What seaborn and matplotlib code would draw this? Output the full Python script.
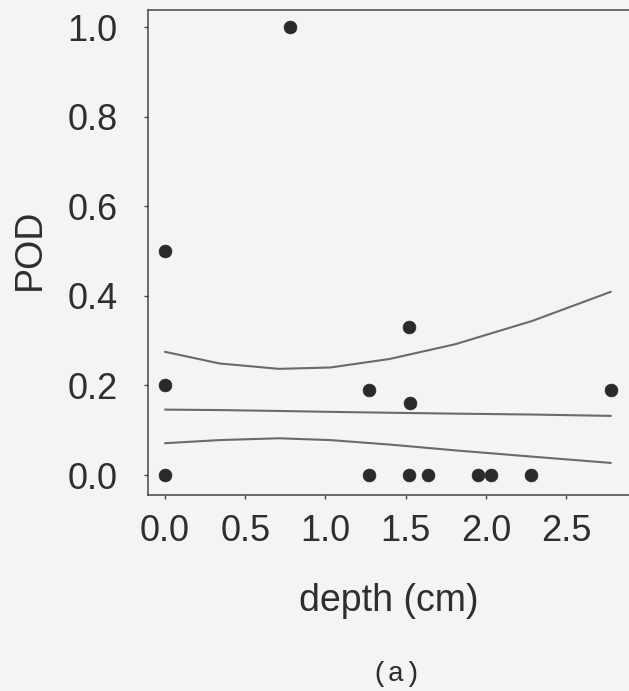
import matplotlib
matplotlib.use("Agg")
import matplotlib.pyplot as plt
import seaborn as sns
import pandas as pd

# observed points
depth = [0.0, 0.0, 0.0, 0.78, 1.27, 1.27, 1.52, 1.53, 1.52, 1.64, 1.95, 2.03, 2.28, 2.78]
pod = [0.5, 0.2, 0.0, 1.0, 0.19, 0.0, 0.33, 0.16, 0.0, 0.0, 0.0, 0.0, 0.0, 0.19]

# fitted curve and confidence bounds
curve_x = [0.0, 0.34, 0.71, 1.03, 1.40, 1.81, 2.29, 2.78]
upper = [0.275, 0.249, 0.237, 0.240, 0.259, 0.292, 0.344, 0.409]
fit = [0.146, 0.145, 0.143, 0.141, 0.139, 0.137, 0.135, 0.132]
lower = [0.071, 0.078, 0.082, 0.078, 0.068, 0.055, 0.041, 0.027]

x_ticks = [0.0, 0.5, 1.0, 1.5, 2.0, 2.5]
y_ticks = [0.0, 0.2, 0.4, 0.6, 0.8, 1.0]

sns.set_style("ticks")
plt.rcParams['font.family'] = ['Liberation Sans', 'DejaVu Sans']

bg = '#f4f4f2'
ink = '#2e2e2e'
fig = plt.figure(figsize=(6.29, 6.91), dpi=100, facecolor=bg)
ax = fig.add_axes([148/629, 196/691, 481/629, 485/691])
ax.set_facecolor(bg)

pts = pd.DataFrame({'depth': depth, 'POD': pod})
lines = pd.DataFrame({
    'depth': curve_x * 3,
    'POD': upper + fit + lower,
    'curve': ['upper'] * len(curve_x) + ['fit'] * len(curve_x) + ['lower'] * len(curve_x),
})

sns.lineplot(data=lines, x='depth', y='POD', units='curve', estimator=None,
             color='#6a6a6a', linewidth=1.5, ax=ax, legend=False)
sns.scatterplot(data=pts, x='depth', y='POD', color='#2a2a2a', s=85,
                edgecolor='#2a2a2a', linewidth=0.5, ax=ax, legend=False, zorder=3)

ax.set_xlim(-0.106, 2.893)
ax.set_ylim(-0.0446, 1.038)
ax.set_xticks(x_ticks)
ax.set_xticklabels([f"{v:.1f}" for v in x_ticks])
ax.set_yticks(y_ticks)
ax.set_yticklabels([f"{v:.1f}" for v in y_ticks])

for side in ['left', 'bottom', 'top']:
    ax.spines[side].set_color('#444444')
    ax.spines[side].set_linewidth(1.1)
ax.spines['right'].set_visible(False)

ax.tick_params(axis='both', direction='out', length=3, width=1, color='#444444',
               labelsize=26, labelcolor=ink)
ax.tick_params(axis='y', pad=19)
ax.tick_params(axis='x', pad=11)

ax.set_xlabel('depth (cm)', fontsize=27, color=ink)
ax.set_ylabel('POD', fontsize=27, color=ink)
ax.xaxis.label.set_va('center')
ax.yaxis.label.set_va('center')
ax.xaxis.set_label_coords(0.5, (495 - 601) / 485)
ax.yaxis.set_label_coords((30 - 148) / 481, (495 - 249) / 485)

fig.text(396 / 629, 1 - 674 / 691, '(a)', ha='center', va='center',
         fontsize=20, color=ink, family=['Liberation Mono', 'DejaVu Sans Mono'])

fig.savefig('out.png', dpi=100, facecolor=bg)
